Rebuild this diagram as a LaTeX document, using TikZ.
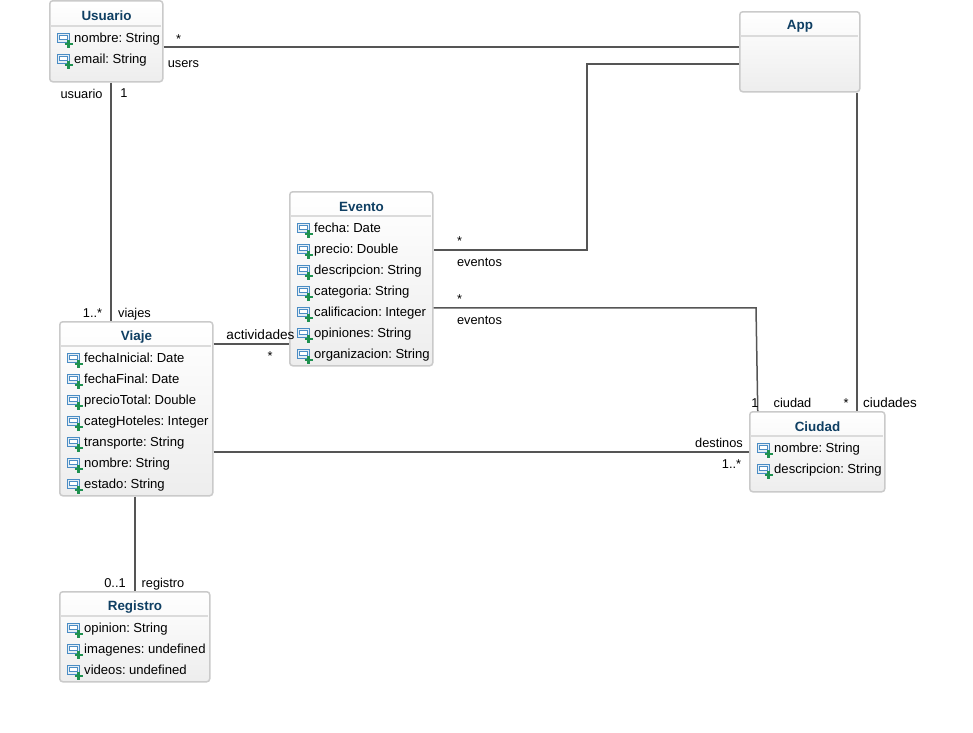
\documentclass[tikz,border=0pt]{standalone}
\usepackage{fontspec}
\setmainfont[WordSpace=0.6]{Liberation Sans}
\definecolor{titleblue}{HTML}{0F3F63}
\definecolor{boxline}{HTML}{CACACA}
\definecolor{conn}{HTML}{555555}
\definecolor{iconblue}{HTML}{4A8CC4}
\definecolor{icongreen}{HTML}{1E9150}
\tikzset{
  x=1pt,y=-1pt,
  umlbox/.style={draw=boxline,line width=1.5pt,rounded corners=3pt,top color=white,bottom color=black!7,anchor=north west,inner sep=0pt},
  headline/.style={draw=black!14,line width=1.5pt},
  classtitle/.style={font=\fontsize{13.4}{15}\bfseries\selectfont,text=titleblue,inner sep=0pt},
  attr/.style={font=\fontsize{13.1}{15}\selectfont,anchor=base west,inner sep=0pt},
  lab/.style={font=\fontsize{12.8}{15}\selectfont,anchor=base,inner sep=0pt},
  connector/.style={draw=conn,line width=1.5pt},
  attricon/.pic={
    \draw[iconblue,fill=iconblue!15,line width=1pt] (-6,-5) rectangle (6,4);
    \draw[iconblue,fill=white,line width=0.7pt] (-4,-3) rectangle (4,1.5);
    \draw[icongreen,line width=2.2pt] (1.5,6) -- (9.5,6) (5.5,2) -- (5.5,10);
  }
}
\newcommand{\umlclass}[7]{% name, x1, y1, x2, y2, header y, title
  \node[umlbox,minimum width=#4pt-#2pt,minimum height=#5pt-#3pt] (#1) at (#2,#3) {};
  \draw[headline] (#2+1,#6) -- (#4-1,#6);
  \node[classtitle] (#1title) at ({(#2+#4)/2+1},#3+15.7) {#7};
}
\newcommand{\umlattr}[5]{% name, x, icon centre y, baseline, text
  \pic at (#2+14,#3) {attricon};
  \node[attr] (#1) at (#2+25,#4+1) {#5};
}
\begin{document}
\begin{tikzpicture}
\useasboundingbox (1,1) rectangle (974,733);
\umlclass{usuario}{50}{1}{163}{82}{27}{Usuario}
\umlattr{u1}{50}{39}{42}{nombre: String}
\umlattr{u2}{50}{60}{63}{email: String}
\umlclass{app}{740}{12}{860}{92}{37}{App}
\umlclass{evento}{290}{192}{433}{366}{217}{Evento}
\umlattr{e1}{290}{229}{232}{fecha: Date}
\umlattr{e2}{290}{250}{253}{precio: Double}
\umlattr{e3}{290}{271}{274}{descripcion: String}
\umlattr{e4}{290}{292}{295}{categoria: String}
\umlattr{e5}{290}{313}{316}{calificacion: Integer}
\umlattr{e6}{290}{334}{337}{opiniones: String}
\umlattr{e7}{290}{355}{358}{organizacion: String}
\umlclass{viaje}{60}{322}{213}{496}{347}{Viaje}
\umlattr{v1}{60}{359}{362}{fechaInicial: Date}
\umlattr{v2}{60}{380}{383}{fechaFinal: Date}
\umlattr{v3}{60}{401}{404}{precioTotal: Double}
\umlattr{v4}{60}{422}{425}{categHoteles: Integer}
\umlattr{v5}{60}{443}{446}{transporte: String}
\umlattr{v6}{60}{464}{467}{nombre: String}
\umlattr{v7}{60}{485}{488}{estado: String}
\umlclass{ciudad}{750}{412}{885}{492}{437}{Ciudad}
\umlattr{c1}{750}{449}{452}{nombre: String}
\umlattr{c2}{750}{470}{473}{descripcion: String}
\umlclass{registro}{60}{592}{210}{682}{617}{Registro}
\umlattr{r1}{60}{629}{632}{opinion: String}
\umlattr{r2}{60}{650}{653}{imagenes: undefined}
\umlattr{r3}{60}{671}{674}{videos: undefined}
% connectors
\coordinate (appout) at ([yshift=-12pt]app.west);
\coordinate (evtout) at ([yshift=29pt]evento.east);
\coordinate (evtoutb) at ([yshift=-29pt]evento.east);
\coordinate (bendx) at (588,0);
\coordinate (bendy) at (757,0);
\path[connector] ([yshift=-5.5pt]usuario.east) -- ([yshift=5pt]app.west);
\path[connector] ([xshift=4.5pt]usuario.south) -- ([xshift=-25.5pt]viaje.north);
\path[connector] (appout) -- (appout -| bendx) |- (evtout);
\path[connector] ([xshift=57pt]app.south) -- ([xshift=39.5pt]ciudad.north);
\path[connector] (evtoutb) -- (evtoutb -| bendy) -- ([xshift=-59.5pt]ciudad.north);
\path[connector] ([yshift=65pt]viaje.east) -- ([yshift=-65pt]evento.west);
\path[connector] ([yshift=-43pt]viaje.east) -- (ciudad.west);
\path[connector] ([xshift=-1.5pt]viaje.south) -- (registro.north);
% labels
\node[lab] (l1) at (179.5,44) {*};
\node[lab] (l2) at (184.5,68) {users};
\node[lab] (l3) at (82.5,99) {usuario};
\node[lab] (l4) at (125,98) {1};
\node[lab] (l5) at (93.5,318) {1..*};
\node[lab] (l6) at (135.5,318) {viajes};
\node[lab,font=\fontsize{13.6}{15}\selectfont] (l7) at (261.5,340) {actividades};
\node[lab] (l8) at (271,361) {*};
\node[lab] (l9) at (460.5,246) {*};
\node[lab] (l10) at (480.5,267) {eventos};
\node[lab] (l11) at (460.5,304) {*};
\node[lab] (l12) at (480.5,325) {eventos};
\node[lab] (l13) at (756,408) {1};
\node[lab] (l14) at (793.5,408) {ciudad};
\node[lab] (l15) at (847,408) {*};
\node[lab,font=\fontsize{13.4}{15}\selectfont] (l16) at (891,408) {ciudades};
\node[lab] (l17) at (720,448) {destinos};
\node[lab] (l18) at (732.5,469) {1..*};
\node[lab] (l19) at (116,588) {0..1};
\node[lab] (l20) at (164,588) {registro};
\end{tikzpicture}
\end{document}
